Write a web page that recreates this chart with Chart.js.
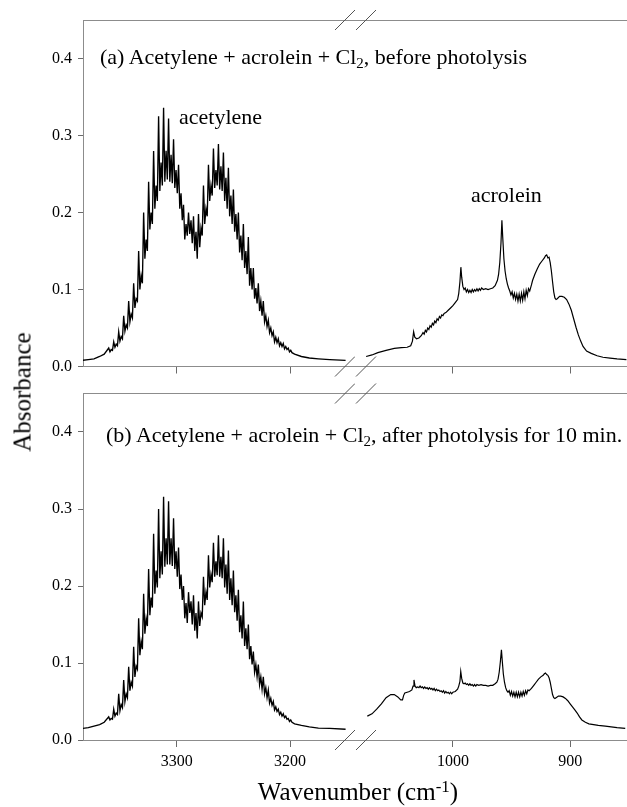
<!DOCTYPE html>
<html>
<head>
<meta charset="utf-8">
<script src="https://cdn.jsdelivr.net/npm/chart.js@4.4.1/dist/chart.umd.min.js"></script>
<style>
html,body{margin:0;padding:0;background:#fff;width:627px;height:807px;overflow:hidden;position:relative;}
canvas{position:absolute;}
.t{position:absolute;white-space:nowrap;color:#000;font-family:"Liberation Serif","Times New Roman",serif;line-height:1;}
.t sub{font-size:0.68em;vertical-align:baseline;position:relative;top:0.3em;line-height:0;}
.t sup{font-size:0.68em;vertical-align:baseline;position:relative;top:-0.5em;line-height:0;}
</style>
</head>
<body>
<canvas id="aL" width="355" height="400" style="left:0px;top:0px;width:355px;height:400px"></canvas>
<canvas id="aR" width="272" height="400" style="left:355px;top:0px;width:272px;height:400px"></canvas>
<canvas id="bL" width="355" height="410" style="left:0px;top:374px;width:355px;height:410px"></canvas>
<canvas id="bR" width="272" height="410" style="left:355px;top:374px;width:272px;height:410px"></canvas>

<div class="t" style="left:100px;top:46px;font-size:22px">(a) Acetylene + acrolein + Cl<sub>2</sub>, before photolysis</div>
<div class="t" style="left:106px;top:424px;font-size:22px">(b) Acetylene + acrolein + Cl<sub>2</sub>, after photolysis for 10 min.</div>
<div class="t" style="left:179px;top:106px;font-size:22px">acetylene</div>
<div class="t" style="left:471px;top:184px;font-size:22px">acrolein</div>
<div class="t" style="left:22px;top:392px;font-size:25px;transform:translate(-50%,-50%) rotate(-90deg)">Absorbance</div>
<div class="t" style="left:358px;top:779px;font-size:25px;transform:translateX(-50%)">Wavenumber (cm<sup>-1</sup>)</div>

<script>
// ---------- data ----------
const yTicks = [0, 0.1, 0.2, 0.3, 0.4];
const xTicksLeft = [3300, 3200];
const xTicksRight = [1000, 900];

// acetylene region (cm-1)
const acetyleneWn = [
3383, 3378, 3373, 3368, 3364,
3360.0, 3358.9, 3357.8, 3356.7, 3355.6, 3354.5, 3353.4, 3352.3,
3351.2, 3350.1, 3349.0, 3347.9, 3346.8, 3345.7, 3344.6, 3343.5,
3342.4, 3341.3, 3340.2, 3339.1, 3338.0, 3336.9, 3335.8, 3334.7,
3333.6, 3332.5, 3331.4, 3330.3, 3329.2, 3328.1, 3327.0, 3325.9,
3324.8, 3323.7, 3322.6, 3321.5, 3320.4, 3319.3, 3318.2, 3317.1,
3316.0, 3314.9, 3313.8, 3312.7, 3311.6, 3310.5, 3309.4, 3308.3,
3307.2, 3306.1, 3305.0, 3303.9, 3302.8, 3301.7, 3300.6, 3299.5,
3298.4, 3297.3, 3296.2, 3295.1, 3294.0, 3292.9, 3291.8, 3290.7,
3289.6, 3288.5, 3287.4, 3286.3, 3285.2, 3284.1, 3283.0, 3281.9,
3280.8, 3279.7, 3278.6, 3277.5, 3276.4, 3275.3, 3274.2, 3273.1,
3272.0, 3270.9, 3269.8, 3268.7, 3267.6, 3266.5, 3265.4, 3264.3,
3263.2, 3262.1, 3261.0, 3259.9, 3258.8, 3257.7, 3256.6, 3255.5,
3254.4, 3253.3, 3252.2, 3251.1, 3250.0, 3248.9, 3247.8, 3246.7,
3245.6, 3244.5, 3243.4, 3242.3, 3241.2, 3240.1, 3239.0, 3237.9,
3236.8, 3235.7, 3234.6, 3233.5, 3232.4, 3231.3, 3230.2, 3229.1,
3228.0, 3226.9, 3225.8, 3224.7, 3223.6, 3222.5, 3221.4, 3220.3,
3219.2, 3218.1, 3217.0, 3215.9, 3214.8, 3213.7, 3212.6, 3211.5,
3210.4, 3209.3, 3208.2, 3207.1, 3206.0, 3204.9, 3203.8, 3202.7,
3201.6, 3200.5, 3199.4, 3198.3,
3196, 3190, 3183, 3175, 3165, 3151
];

// (a) before photolysis
const acetyleneBefore = [
0.008, 0.009, 0.010, 0.013, 0.016,
0.024, 0.019, 0.022, 0.021,  0.032, 0.025, 0.029, 0.027,
0.045, 0.033, 0.039, 0.036,  0.066, 0.046, 0.054, 0.050,
0.085, 0.058, 0.068, 0.063,  0.108, 0.076, 0.088, 0.085,
0.150, 0.100, 0.118, 0.108,  0.200, 0.140, 0.165, 0.150,
0.240, 0.178, 0.200, 0.185,  0.280, 0.205, 0.235, 0.215,
0.325, 0.228, 0.265, 0.235,  0.336, 0.240, 0.280, 0.243,
0.322, 0.240, 0.275, 0.238,  0.295, 0.232, 0.255, 0.225,
0.262, 0.205, 0.225, 0.190,  0.210, 0.165, 0.185, 0.170,
0.200, 0.172, 0.190, 0.160,  0.195, 0.150, 0.175, 0.140,
0.198, 0.155, 0.180, 0.170,  0.235, 0.185, 0.205, 0.195,
0.262, 0.215, 0.235, 0.222,  0.283, 0.232, 0.255, 0.235,
0.289, 0.230, 0.260, 0.228,  0.278, 0.215, 0.245, 0.205,
0.258, 0.195, 0.222, 0.185,  0.230, 0.175, 0.198, 0.165,
0.200, 0.148, 0.170, 0.138,  0.185, 0.128, 0.150, 0.120,
0.168, 0.105, 0.128, 0.100,  0.128, 0.088, 0.102, 0.082,
0.108, 0.072, 0.085, 0.066,  0.085, 0.058, 0.066, 0.052,
0.060, 0.044, 0.050, 0.040,  0.045, 0.032, 0.038, 0.031,
0.036, 0.027, 0.031, 0.026,  0.030, 0.023, 0.026, 0.022,
0.024, 0.019, 0.021, 0.018,
0.016, 0.013, 0.011, 0.010, 0.009, 0.008
];

// (b) after photolysis for 10 min
const acetyleneAfter = [
0.015, 0.016, 0.018, 0.020, 0.023,
0.030, 0.026, 0.028, 0.027,  0.040, 0.031, 0.035, 0.033,
0.060, 0.038, 0.046, 0.042,  0.078, 0.050, 0.060, 0.055,
0.095, 0.064, 0.075, 0.070,  0.121, 0.082, 0.096, 0.092,
0.158, 0.110, 0.128, 0.118,  0.190, 0.138, 0.158, 0.148,
0.222, 0.162, 0.185, 0.172,  0.268, 0.190, 0.220, 0.198,
0.300, 0.210, 0.245, 0.215,  0.316, 0.225, 0.262, 0.228,
0.310, 0.228, 0.262, 0.226,  0.288, 0.222, 0.245, 0.212,
0.250, 0.196, 0.215, 0.182,  0.200, 0.158, 0.178, 0.152,
0.192, 0.165, 0.180, 0.150,  0.188, 0.142, 0.165, 0.132,
0.180, 0.148, 0.165, 0.160,  0.212, 0.175, 0.192, 0.182,
0.240, 0.198, 0.215, 0.205,  0.256, 0.212, 0.232, 0.214,
0.266, 0.212, 0.238, 0.210,  0.262, 0.198, 0.228, 0.190,
0.246, 0.182, 0.210, 0.175,  0.220, 0.166, 0.188, 0.155,
0.195, 0.140, 0.162, 0.132,  0.180, 0.122, 0.145, 0.118,
0.150, 0.105, 0.122, 0.098,  0.115, 0.088, 0.098, 0.082,
0.098, 0.072, 0.082, 0.066,  0.082, 0.060, 0.068, 0.055,
0.065, 0.048, 0.054, 0.045,  0.050, 0.039, 0.043, 0.037,
0.040, 0.033, 0.036, 0.031,  0.034, 0.029, 0.031, 0.027,
0.028, 0.024, 0.026, 0.023,
0.021, 0.019, 0.017, 0.0155, 0.015, 0.014
];

// acrolein region (a)
const acroleinWnBefore = [
1074, 1069, 1064, 1057, 1050, 1044, 1039, 1036, 1034.5, 1033.5,
1032.5, 1031, 1029, 1027, 1025.5, 1024.5, 1023.5, 1022.5, 1021.5, 1020.5,
1019.5, 1018.5, 1017.5, 1016.5, 1015.5, 1014.5, 1013.5, 1012.5, 1011.5, 1010.5,
1009.5, 1008.5, 1007.5, 1006, 1004, 1002, 1000, 998, 996, 995,
994, 993.2, 992.5, 991.5, 990.5, 989.5, 988.5, 987.5, 986.5, 985.5,
984.5, 983.5, 982.5, 981.5, 980.5, 979.5, 978.5, 977.5, 976.5, 975.5,
974, 972, 970, 968, 966, 964, 962, 961, 960, 959,
958.2, 957.5, 956.5, 955.5, 954.5, 953.5, 952.5, 951.5, 950.5, 949.5,
948.5, 947.5, 946.5, 945.5, 944.5, 943.5, 942.5, 941.5, 940.5, 939.5,
938.5, 937.5, 936.5, 935.5, 934.5, 933, 932, 930, 928, 926,
924, 922, 921, 920, 919, 918, 917, 916, 915, 914,
913, 912, 911, 909, 907, 905, 903, 901, 899, 897,
895, 893, 891, 889, 886, 882, 877, 872, 866, 860,
852
];
const acroleinBefore = [
0.013, 0.015, 0.018, 0.021, 0.0235, 0.0245, 0.025, 0.027, 0.033, 0.045,
0.038, 0.036, 0.037, 0.040, 0.044, 0.042, 0.047, 0.045, 0.050, 0.048,
0.053, 0.051, 0.056, 0.054, 0.059, 0.057, 0.062, 0.060, 0.065, 0.063,
0.067, 0.066, 0.069, 0.070, 0.073, 0.076, 0.079, 0.083, 0.087, 0.095,
0.110, 0.129, 0.116, 0.104, 0.100, 0.102, 0.097, 0.100, 0.096, 0.099,
0.096, 0.100, 0.097, 0.100, 0.098, 0.101, 0.098, 0.101, 0.099, 0.102,
0.100, 0.101, 0.100, 0.101, 0.102, 0.105, 0.112, 0.120, 0.135, 0.160,
0.190, 0.168, 0.140, 0.124, 0.114, 0.107, 0.102, 0.098, 0.093, 0.097,
0.089, 0.095, 0.087, 0.094, 0.085, 0.094, 0.085, 0.095, 0.086, 0.097,
0.088, 0.099, 0.092, 0.101, 0.098, 0.106, 0.112, 0.120, 0.127, 0.133,
0.137, 0.141, 0.144, 0.145, 0.141, 0.142, 0.135, 0.124, 0.110, 0.097,
0.089, 0.087, 0.088, 0.091, 0.091, 0.090, 0.087, 0.081, 0.073, 0.062,
0.051, 0.041, 0.033, 0.026, 0.020, 0.017, 0.014, 0.012, 0.011, 0.010,
0.009
];

// acrolein region (b)
const acroleinWnAfter = [
1073, 1069, 1065, 1061, 1057, 1053, 1050, 1047, 1044.5, 1043,
1042, 1041, 1039, 1037, 1035, 1034, 1033.2, 1032.3, 1031.3, 1030,
1029, 1028, 1027, 1026, 1025, 1024, 1023, 1022, 1021, 1020,
1019, 1018, 1017, 1016, 1015, 1014, 1013, 1012, 1011, 1010,
1009, 1008, 1007, 1006, 1005, 1004, 1003, 1002, 1001, 1000,
998, 996, 995, 994, 993.3, 992.5, 991.5, 990.5, 989.5, 988.5,
987.5, 986.5, 985.5, 984.5, 983.5, 982.5, 981.5, 980.5, 979.5, 978,
976, 974, 972, 970, 968, 966, 964, 962.5, 961.5, 960.5,
959.5, 958.6, 957.8, 957, 956, 955, 954, 953, 952, 951,
950, 949, 948, 947, 946, 945, 944, 943, 942, 941,
940, 939, 938, 937, 936, 935, 933, 931, 929, 927,
925, 923, 922, 921, 920, 919, 918, 917, 916, 915,
914, 913, 912, 910, 908, 906, 904, 902, 900, 898,
896, 894, 892, 890, 887, 884, 880, 876, 870, 865,
860, 853
];
const acroleinAfter = [
0.031, 0.034, 0.040, 0.047, 0.055, 0.059, 0.059, 0.056, 0.052, 0.052,
0.058, 0.061, 0.062, 0.063, 0.065, 0.070, 0.078, 0.070, 0.068, 0.069,
0.068, 0.070, 0.068, 0.069, 0.067, 0.069, 0.067, 0.068, 0.066, 0.068,
0.066, 0.067, 0.065, 0.067, 0.064, 0.066, 0.064, 0.065, 0.063, 0.064,
0.062, 0.064, 0.061, 0.063, 0.061, 0.062, 0.060, 0.062, 0.060, 0.062,
0.063, 0.066, 0.070, 0.076, 0.089, 0.080, 0.074, 0.073, 0.074, 0.072,
0.073, 0.071, 0.073, 0.071, 0.072, 0.070, 0.072, 0.070, 0.072, 0.071,
0.072, 0.071, 0.071, 0.070, 0.071, 0.071, 0.073, 0.075, 0.079, 0.088,
0.102, 0.117, 0.101, 0.086, 0.075, 0.068, 0.064, 0.062, 0.064, 0.058,
0.063, 0.057, 0.062, 0.056, 0.062, 0.056, 0.062, 0.056, 0.062, 0.057,
0.063, 0.058, 0.064, 0.060, 0.065, 0.064, 0.067, 0.071, 0.075, 0.079,
0.082, 0.084, 0.086, 0.087, 0.085, 0.084, 0.081, 0.075, 0.067, 0.059,
0.055, 0.054, 0.055, 0.057, 0.057, 0.056, 0.054, 0.051, 0.047, 0.043,
0.039, 0.035, 0.030, 0.026, 0.023, 0.021, 0.020, 0.019, 0.018, 0.017,
0.016, 0.015
];

// axis ranges of the broken x axis (cm-1) and y axis
const leftRange = [3142.7, 3382.7];
const rightRange = [851.5, 1083.5];
const yRange = [0, 0.45];

// ---------- drawing ----------
const AXIS = '#8c8c8c', TICK = '#6a6a6a', SLASH = '#555555';
const FONT = {family: '"Liberation Serif", "Times New Roman", serif', size: 16};

const breakFrame = {
  id: 'breakFrame',
  afterDraw(chart, args, o) {
    const {ctx, chartArea: a} = chart;
    ctx.save();
    ctx.lineWidth = 1;
    ctx.strokeStyle = AXIS;
    const yt = Math.floor(a.top) + 0.5;
    ctx.beginPath();
    ctx.moveTo(a.left, yt);
    ctx.lineTo(a.right, yt);
    ctx.stroke();
    ctx.strokeStyle = SLASH;
    const cx = o.side === 'left' ? a.right - 10 : a.left + 11;
    [a.top, a.bottom].forEach(y => {
      ctx.beginPath();
      ctx.moveTo(cx - 10, y + 10);
      ctx.lineTo(cx + 10, y - 10);
      ctx.stroke();
    });
    ctx.restore();
  }
};

function pts(xs, ys) { return xs.map((x, i) => ({x: x, y: ys[i]})); }

function makeChart(id, side, xs, ys, padTop, xAxisH, showXLabels) {
  const range = side === 'left' ? leftRange : rightRange;
  const xt = side === 'left' ? xTicksLeft : xTicksRight;
  const isLeft = side === 'left';
  return new Chart(document.getElementById(id), {
    type: 'scatter',
    data: {datasets: [{
      data: pts(xs, ys), showLine: true, borderColor: '#000', borderWidth: isLeft ? 1.35 : 1.2,
      pointRadius: 0, pointHoverRadius: 0, tension: 0
    }]},
    options: {
      responsive: false, animation: false, devicePixelRatio: 1, events: [],
      layout: {padding: {top: padTop, left: 0, right: 0, bottom: 0}},
      plugins: {legend: {display: false}, tooltip: {enabled: false}, breakFrame: {side: side}},
      scales: {
        x: {
          type: 'linear', reverse: true, min: range[0], max: range[1],
          afterBuildTicks: s => { s.ticks = xt.map(v => ({value: v})); },
          afterFit: s => { s.height = xAxisH; },
          grid: {display: true, drawOnChartArea: false, drawTicks: true, tickLength: 7, color: TICK},
          border: {display: true, color: AXIS, width: 1},
          ticks: {display: showXLabels, font: FONT, color: '#000', padding: 5, maxRotation: 0,
                  callback: v => String(v)}
        },
        y: {
          type: 'linear', min: yRange[0], max: yRange[1], display: isLeft,
          afterBuildTicks: s => { s.ticks = yTicks.map(v => ({value: v})); },
          afterFit: s => { s.width = isLeft ? 83 : 0; },
          grid: {display: true, drawOnChartArea: false, drawTicks: true, tickLength: 5, color: TICK},
          border: {display: true, color: AXIS, width: 1},
          ticks: {font: FONT, color: '#000', padding: 6, callback: v => v.toFixed(1)}
        }
      }
    },
    plugins: [breakFrame]
  });
}

makeChart('aL', 'left', acetyleneWn, acetyleneBefore, 20, 33.5, false);
makeChart('aR', 'right', acroleinWnBefore, acroleinBefore, 20, 33.5, false);
makeChart('bL', 'left', acetyleneWn, acetyleneAfter, 19.5, 44, true);
makeChart('bR', 'right', acroleinWnAfter, acroleinAfter, 19.5, 44, true);
</script>
</body>
</html>
